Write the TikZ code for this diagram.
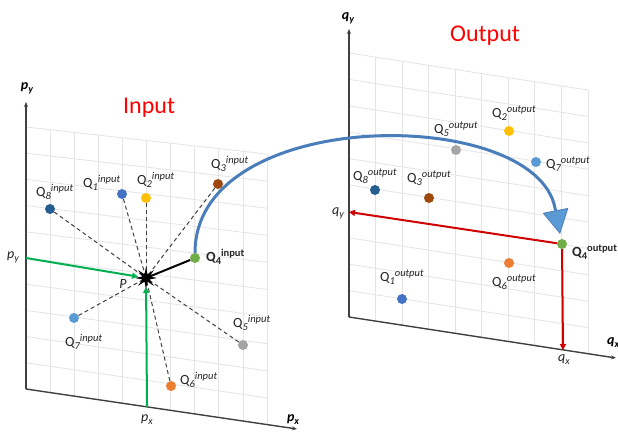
\documentclass[tikz,border=0pt]{standalone}
\usepackage{fontspec}
\setmainfont{Carlito}
\usetikzlibrary{arrows.meta,shapes.geometric,calc}
\definecolor{cqa}{HTML}{4472C4}
\definecolor{cqb}{HTML}{FFC000}
\definecolor{cqc}{HTML}{9E480E}
\definecolor{cqd}{HTML}{70AD47}
\definecolor{cqe}{HTML}{A5A5A5}
\definecolor{cqf}{HTML}{ED7D31}
\definecolor{cqg}{HTML}{5B9BD5}
\definecolor{cqh}{HTML}{255E91}
\definecolor{gridc}{HTML}{E4E4E4}
\definecolor{axisc}{HTML}{404040}
\definecolor{labc}{HTML}{262626}
\definecolor{greenc}{HTML}{00B050}
\definecolor{redc}{HTML}{D00000}
\definecolor{titlered}{HTML}{FF0000}
\definecolor{curvec}{HTML}{4A7EBB}
\definecolor{tipc}{HTML}{5B9BD5}
\pgfdeclarelayer{bg}
\pgfsetlayers{bg,main}
\newcommand{\Qlab}[2]{Q\raisebox{-3pt}{\fontsize{10.5}{10}\selectfont\itshape #1}\raisebox{5pt}{\fontsize{10.5}{10}\selectfont\itshape #2}}
\newcommand{\Qbld}[2]{{\bfseries Q\raisebox{-3pt}{\fontsize{10.5}{10}\selectfont\bfseries #1}\raisebox{5pt}{\fontsize{10.5}{10}\selectfont\bfseries #2}}}
\begin{document}
\begin{tikzpicture}[x=1pt,y=-1pt,
  gridline/.style={draw=gridc,line width=0.8pt},
  axisline/.style={draw=axisc,line width=1.4pt,-{Stealth[length=5pt,width=4pt]}},
  dot/.style={circle,minimum size=10pt,inner sep=0pt},
  lab/.style={anchor=base west,inner sep=0pt,font=\fontsize{14}{16}\selectfont,text=labc},
  axlab/.style={inner sep=0pt,font=\fontsize{14}{16}\selectfont\itshape,text=labc},
  axbold/.style={inner sep=0pt,font=\fontsize{14}{16}\selectfont\bfseries\itshape,text=black},
  title/.style={anchor=base west,inner sep=0pt,font=\fontsize{24}{28}\selectfont,text=titlered},
  dashln/.style={draw=axisc,line width=1pt,dash pattern=on 4pt off 3pt},
  greenarr/.style={draw=greenc,line width=2pt,-{Triangle[length=6pt,width=6pt]}},
  redarr/.style={draw=redc,line width=2pt,-{Triangle[length=6pt,width=6pt]}},
  bluecurve/.style={draw=curvec,line width=3pt,-{Triangle[width=26pt,length=24pt,fill=tipc,line width=0.8pt]}}
]
\useasboundingbox (0,0) rectangle (618,431);
\clip (0,0) rectangle (618,431);

% ---------- Input panel geometry ----------
\coordinate (LBL) at (26,389);
\coordinate (LTL) at (26,127);
\coordinate (LTR) at (267,154);
\coordinate (LBR) at (267,425);
\coordinate (LYtip) at (26,102);
\coordinate (LXtip) at (297,429);
% ---------- Output panel geometry ----------
\coordinate (RBL) at (349,317);
\coordinate (RTL) at (349,53);
\coordinate (RTR) at (588,90);
\coordinate (RBR) at (588,354);
\coordinate (RYtip) at (349,29);
\coordinate (RXtip) at (616,358);

% ---------- points ----------
\node[dot,fill=cqh] (q8in) at (50,209) {};
\node[dot,fill=cqa] (q1in) at (122,194) {};
\node[dot,fill=cqb] (q2in) at (146,198) {};
\node[dot,fill=cqc] (q3in) at (218,184) {};
\node[dot,fill=cqd] (q4in) at (195,258) {};
\node[dot,fill=cqg] (q7in) at (74,318) {};
\node[dot,fill=cqe] (q5in) at (243,345) {};
\node[dot,fill=cqf] (q6in) at (171,386) {};
\node[star,star points=8,star point ratio=2.8,fill=black,minimum size=22pt,inner sep=0pt] (P) at (146,278) {};

\node[dot,fill=cqb] (q2out) at (509,131) {};
\node[dot,fill=cqe] (q5out) at (456,150) {};
\node[dot,fill=cqg] (q7out) at (536,162) {};
\node[dot,fill=cqh] (q8out) at (375,190) {};
\node[dot,fill=cqc] (q3out) at (429,198) {};
\node[dot,fill=cqd] (q4out) at (562,244) {};
\node[dot,fill=cqf] (q6out) at (509,263) {};
\node[dot,fill=cqa] (q1out) at (402,299) {};

\coordinate (gy) at (26,258);
\coordinate (gx) at (147,407);
\coordinate (ry) at (349,212);
\coordinate (rx) at (563,350);
\coordinate (cend) at (555,208);

\begin{pgfonlayer}{bg}
  \fill[white] (0,0) rectangle (618,431);
  % grids
  \foreach \i in {1,...,10} {
    \draw[gridline] ($(LBL)!\i/10!(LBR)$) -- ($(LTL)!\i/10!(LTR)$);
    \draw[gridline] ($(LBL)!\i/10!(LTL)$) -- ($(LBR)!\i/10!(LTR)$);
    \draw[gridline] ($(RBL)!\i/10!(RTL)$) -- ($(RBR)!\i/10!(RTR)$);
  }
  \foreach \i in {1,...,9} {
    \draw[gridline] ($(RBL)!\i/9!(RBR)$) -- ($(RTL)!\i/9!(RTR)$);
  }
  % axes
  \draw[axisline] (LBL) -- (LYtip);
  \draw[axisline] (LBL) -- (LXtip);
  \draw[axisline] (RBL) -- (RYtip);
  \draw[axisline] (RBL) -- (RXtip);
  % dashed links
  \foreach \q in {q8in,q1in,q2in,q3in,q7in,q5in,q6in}
    \draw[dashln] (\q) -- (P.center);
  \draw[draw=black,line width=2pt] (q4in) -- (P.center);
  % green projections
  \draw[greenarr,shorten >=8pt] (gy) -- (P.center);
  \draw[greenarr,shorten >=9pt] (gx) -- (P.center);
  % red projections
  \draw[redarr] (q4out) -- (ry);
  \draw[redarr] (q4out) -- (rx);
  % mapping curve
  \draw[bluecurve,shorten >=5pt] (q4in) .. controls (195,105) and (535,105) .. (cend) -- (q4out);
\end{pgfonlayer}

% ---------- titles ----------
\node[title] (tin) at (123,113) {Input};
\node[title] (tout) at (450,41) {Output};

% ---------- axis labels ----------
\node[axbold] (apy) at (27,88) {p\raisebox{-3pt}{\fontsize{10}{10}\selectfont y}};
\node[axbold] (apx) at (293,420) {p\raisebox{-3pt}{\fontsize{10}{10}\selectfont x}};
\node[axlab] (lpy) at (13,257) {p\raisebox{-3pt}{\fontsize{10}{10}\selectfont y}};
\node[axlab] (lpx) at (147,420) {p\raisebox{-3pt}{\fontsize{10}{10}\selectfont x}};
\node[axbold] (aqy) at (348,18) {q\raisebox{-3pt}{\fontsize{10}{10}\selectfont y}};
\node[axbold,anchor=west] (aqx) at (607,343) {q\raisebox{-3pt}{\fontsize{10}{10}\selectfont x}};
\node[axlab] (lqy) at (338,213) {q\raisebox{-3pt}{\fontsize{10}{10}\selectfont y}};
\node[axlab] (lqx) at (564,360) {q\raisebox{-3pt}{\fontsize{10}{10}\selectfont x}};
\node[axlab] (lP) at (123,284) {P};

% ---------- point labels ----------
\node[lab] (l8in) at (36,196) {\Qlab{8}{input}};
\node[lab] (l1in) at (83,187) {\Qlab{1}{input}};
\node[lab] (l2in) at (137,184) {\Qlab{2}{input}};
\node[lab] (l3in) at (211,168) {\Qlab{3}{input}};
\node[lab] (l4in) at (206,261) {\Qbld{4}{input}};
\node[lab] (l7in) at (65,346) {\Qlab{7}{input}};
\node[lab] (l5in) at (233,327) {\Qlab{5}{input}};
\node[lab] (l6in) at (180,384) {\Qlab{6}{input}};

\node[lab] (l2out) at (492,117) {\Qlab{2}{output}};
\node[lab] (l5out) at (434,133) {\Qlab{5}{output}};
\node[lab] (l7out) at (546,168) {\Qlab{7}{output}};
\node[lab] (l8out) at (353,180) {\Qlab{8}{output}};
\node[lab] (l3out) at (407,182) {\Qlab{3}{output}};
\node[lab] (l4out) at (572,256) {\Qbld{4}{output}};
\node[lab] (l6out) at (492,286) {\Qlab{6}{output}};
\node[lab] (l1out) at (380,281) {\Qlab{1}{output}};
\end{tikzpicture}
\end{document}
